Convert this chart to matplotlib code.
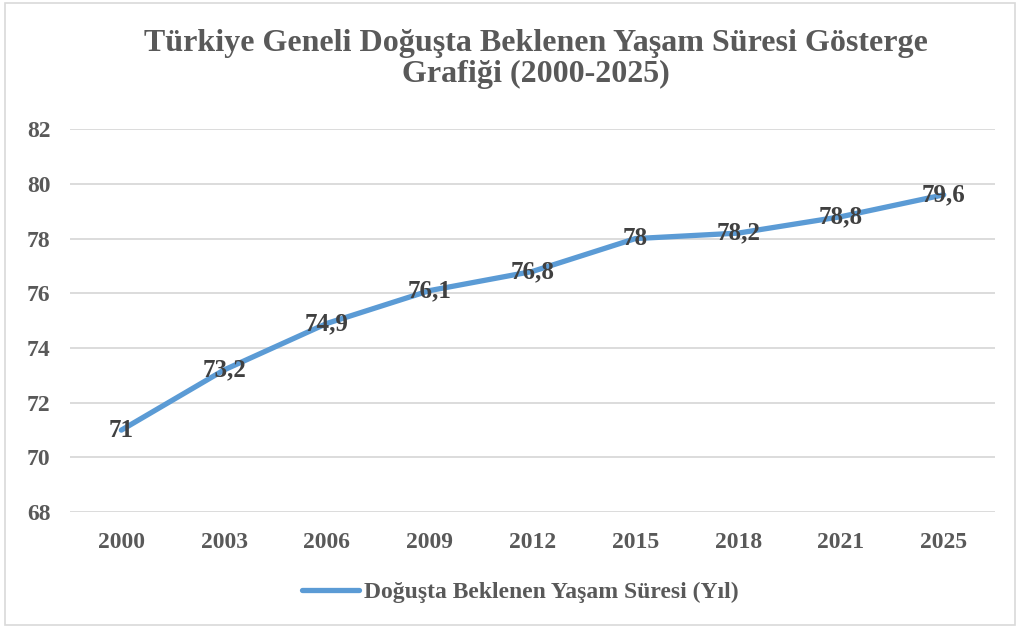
import matplotlib.pyplot as plt
from matplotlib.patches import Rectangle

# veriler
yillar = ['2000', '2003', '2006', '2009', '2012', '2015', '2018', '2021', '2025']
yasam_suresi = [71, 73.2, 74.9, 76.1, 76.8, 78, 78.2, 78.8, 79.6]
etiketler = ['71', '73,2', '74,9', '76,1', '76,8', '78', '78,2', '78,8', '79,6']
y_ticks = [68, 70, 72, 74, 76, 78, 80, 82]

plt.rcParams['font.family'] = ['Liberation Serif', 'DejaVu Serif']
plt.rcParams['font.weight'] = 'bold'

fig = plt.figure(figsize=(10.2, 6.3), dpi=100)
ax = fig.add_axes([0.0686, 0.187, 0.907, 0.608])

x = list(range(len(yillar)))
ax.plot(x, yasam_suresi, color='#5B9BD5', linewidth=3.8, solid_capstyle='round',
        label='Doğuşta Beklenen Yaşam Süresi (Yıl)', zorder=3)

for xi, yi, t in zip(x, yasam_suresi, etiketler):
    ax.text(xi, yi, t, ha='center', va='center', fontsize=18, fontweight='bold',
            color='#404040', zorder=4)

ax.set_xlim(-0.5, len(yillar) - 0.5)
ax.set_ylim(68, 82)
ax.set_yticks(y_ticks)
ax.set_xticks(x)
ax.set_xticklabels(yillar)
ax.tick_params(axis='both', length=0, labelsize=17, labelcolor='#595959')
ax.tick_params(axis='x', pad=14)
ax.tick_params(axis='y', pad=14)
ax.grid(axis='y', color='#d9d9d9', linewidth=1.3)
for s in ax.spines.values():
    s.set_visible(False)

fig.text(0.525, 0.906, 'Türkiye Geneli Doğuşta Beklenen Yaşam Süresi Gösterge\nGrafiği (2000-2025)',
         ha='center', va='center', fontsize=23, fontweight='bold', color='#595959',
         linespacing=1.1)

leg = fig.legend(loc='center', bbox_to_anchor=(0.51, 0.06), frameon=False,
                 fontsize=17, handlelength=2.4, handletextpad=0.2)
for t in leg.get_texts():
    t.set_color('#595959')

fig.patches.append(Rectangle((0.005, 0.008), 0.99, 0.988, transform=fig.transFigure,
                             fill=False, edgecolor='#d9d9d9', linewidth=1.2))

fig.savefig('out.png', dpi=100)
